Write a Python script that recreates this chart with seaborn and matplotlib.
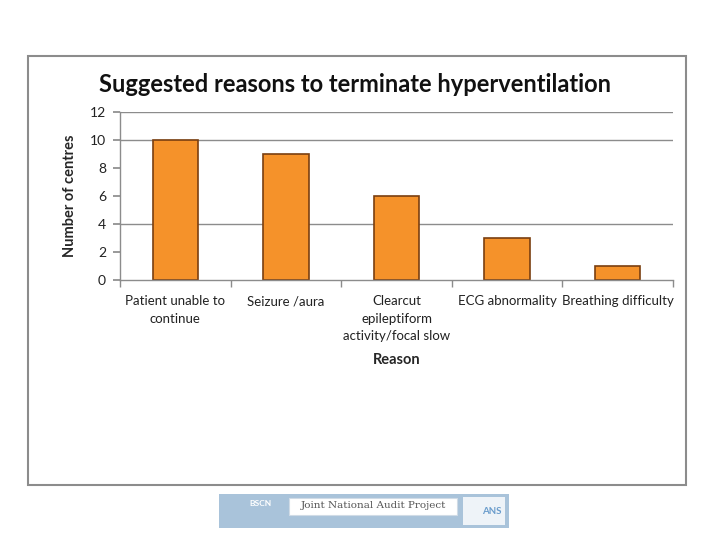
import pandas as pd
import matplotlib.pyplot as plt
import seaborn as sns
from matplotlib.patches import Rectangle

# Data
reasons = ["Patient unable to\ncontinue", "Seizure /aura",
           "Clearcut\nepileptiform\nactivity/focal slow",
           "ECG abnormality", "Breathing difficulty"]
centres = [10, 9, 6, 3, 1]
y_ticks = [0, 2, 4, 6, 8, 10, 12]

df = pd.DataFrame({"Reason": reasons, "Centres": centres})

sns.set_theme(style="white")
plt.rcParams['font.family'] = ['Lato', 'DejaVu Sans']

fig = plt.figure(figsize=(7.2, 5.4), dpi=100)
fig.patch.set_facecolor("white")

# outer chart frame
fig.patches.append(Rectangle((28 / 720, 1 - 485 / 540), 658 / 720, 429 / 540,
                             transform=fig.transFigure, fill=False,
                             edgecolor="#8c8c8c", linewidth=1.5))

ax = fig.add_axes([120 / 720, 1 - 280 / 540, 553 / 720, 168 / 540])
sns.barplot(data=df, x="Reason", y="Centres", color="#f5922a",
            width=0.41, edgecolor="#7a3f10", linewidth=1.2, saturation=1, ax=ax)

ax.set_ylim(0, 12)
ax.set_xlim(-0.5, 4.5)
ax.set_yticks(y_ticks)
for g in [4, 10, 12]:
    ax.axhline(g, color="#8c8c8c", linewidth=1, zorder=0)

for s in ["top", "right"]:
    ax.spines[s].set_visible(False)
for s in ["left", "bottom"]:
    ax.spines[s].set_color("#8c8c8c")
    ax.spines[s].set_linewidth(1)

ax.set_xticks([i - 0.5 for i in range(6)], minor=True)
ax.tick_params(axis="x", which="minor", length=5, color="#8c8c8c", bottom=True)
ax.tick_params(axis="x", which="major", length=0, labelsize=9.5, pad=11, colors="#222222")
ax.tick_params(axis="y", length=5, color="#8c8c8c", left=True, labelsize=10,
               colors="#222222", pad=5)
for lbl in ax.get_xticklabels():
    lbl.set_linespacing(1.55)

ax.set_xlabel("Reason", fontsize=10.5, fontweight="bold", labelpad=8)
ax.set_ylabel("Number of centres", fontsize=10.5, fontweight="bold", labelpad=9)

fig.text(355 / 720, 1 - 85 / 540, "Suggested reasons to terminate hyperventilation",
         ha="center", va="center", fontsize=17, fontweight="bold", color="#111111")

# footer logo strip
fig.patches.append(Rectangle((219 / 720, 1 - 528 / 540), 290 / 720, 34 / 540,
                             transform=fig.transFigure, facecolor="#a9c3da",
                             edgecolor="none"))
fig.patches.append(Rectangle((289 / 720, 1 - 515 / 540), 168 / 720, 17 / 540,
                             transform=fig.transFigure, facecolor="white",
                             edgecolor="#d0dbe6", linewidth=0.8))
fig.patches.append(Rectangle((463 / 720, 1 - 525 / 540), 42 / 720, 28 / 540,
                             transform=fig.transFigure, facecolor="#eef3f8",
                             edgecolor="none"))
fig.text(373 / 720, 1 - 506 / 540, "Joint National Audit Project", ha="center",
         va="center", fontsize=7.5, family="DejaVu Serif", color="#555555")
fig.text(260 / 720, 1 - 503 / 540, "BSCN", ha="center", va="center",
         fontsize=6, fontweight="bold", color="white")
fig.text(492 / 720, 1 - 512 / 540, "ANS", ha="center", va="center",
         fontsize=7, fontweight="bold", color="#6a9ccc")

plt.savefig("out.png", dpi=100)
